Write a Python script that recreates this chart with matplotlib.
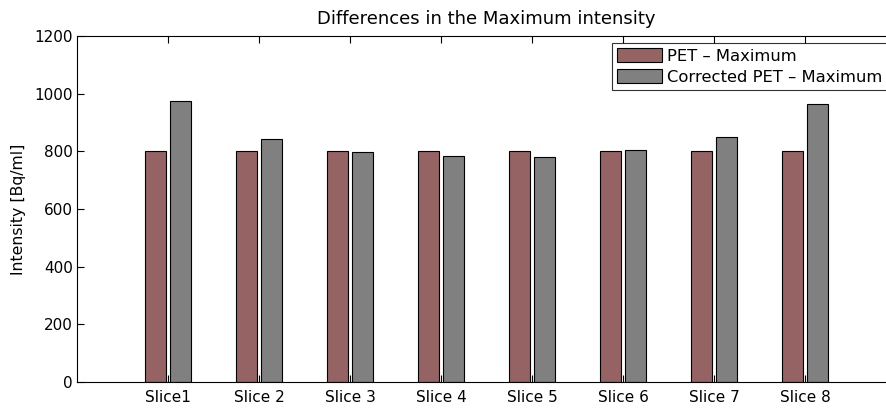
import numpy as np
import matplotlib.pyplot as plt

plt.rcParams['font.family'] = ['DejaVu Sans']

slices = ['Slice1', 'Slice 2', 'Slice 3', 'Slice 4', 'Slice 5', 'Slice 6', 'Slice 7', 'Slice 8']
pet_max = [800, 800, 800, 800, 800, 800, 800, 800]
corrected_max = [975, 842, 797, 784, 780, 805, 849, 963]

x = np.arange(1, len(slices) + 1)
w = 0.23
off = 0.14

fig = plt.figure(figsize=(8.86, 4.12), dpi=100)
# axes run a little past the right edge of the figure
ax = fig.add_axes([77 / 886, 30 / 412, (896 - 77) / 886, (382 - 36) / 412])

ax.bar(x - off, pet_max, w, color='#956363', edgecolor='black', linewidth=0.8,
       label='PET – Maximum')
ax.bar(x + off, corrected_max, w, color='#808080', edgecolor='black', linewidth=0.8,
       label='Corrected PET – Maximum')

ax.set_xlim(0, 9)
ax.set_ylim(0, 1200)
ax.set_xticks(x)
ax.set_xticklabels(slices)
ax.set_yticks(np.arange(0, 1201, 200))
ax.tick_params(axis='both', direction='in', length=5, width=0.8, top=True, right=True,
               labelsize=11)
ax.tick_params(axis='x', pad=6)
ax.tick_params(axis='y', pad=3)
for s in ax.spines.values():
    s.set_linewidth(0.8)

ax.set_ylabel('Intensity [Bq/ml]', fontsize=11.3, labelpad=6)
ax.set_title('Differences in the Maximum intensity', fontsize=13, pad=9)

leg = ax.legend(loc='upper left', bbox_to_anchor=((612 - 77) / 819, 1 - 7 / 346),
                fontsize=11.8, frameon=True, fancybox=False, edgecolor='black',
                handlelength=2.75, handleheight=0.95, handletextpad=0.3,
                borderpad=0.3, labelspacing=0.35, borderaxespad=0)
leg.get_frame().set_linewidth(0.8)

fig.savefig('out.png', dpi=100)
